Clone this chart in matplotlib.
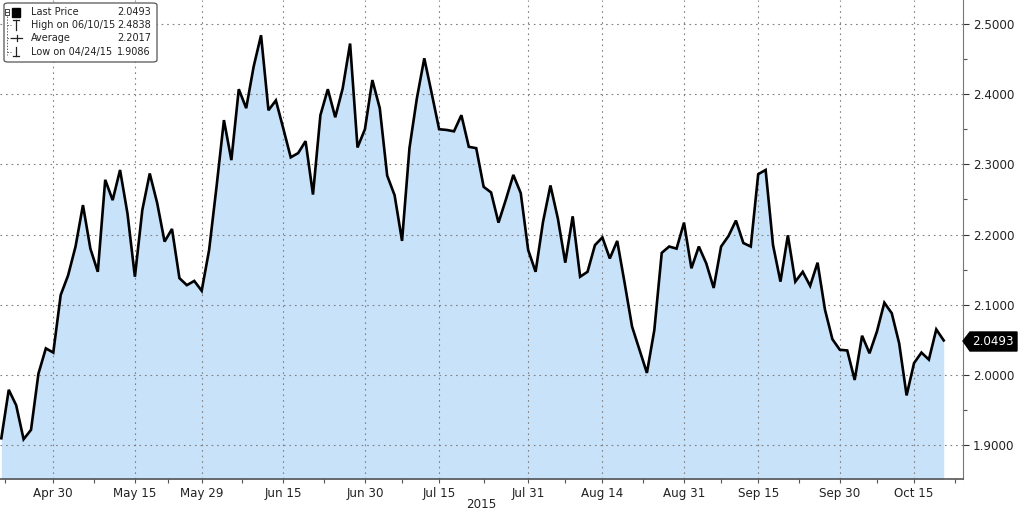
import matplotlib.pyplot as plt
from matplotlib.patches import Polygon, FancyBboxPatch
from matplotlib.lines import Line2D
import numpy as np
import pandas as pd

# trading days (US bond market holidays removed)
holidays = ['2015-05-25', '2015-07-03', '2015-09-07', '2015-10-12']
dates = pd.bdate_range('2015-04-21', '2015-10-21')
dates = dates[~dates.isin(pd.to_datetime(holidays))]

values = [
    1.910, 1.979, 1.957, 1.9086, 1.922, 2.002, 2.038, 2.032, 2.114, 2.142,
    2.183, 2.242, 2.180, 2.147, 2.278, 2.249, 2.292, 2.230, 2.140, 2.235,
    2.287, 2.245, 2.190, 2.208, 2.138, 2.128, 2.134, 2.120, 2.178, 2.268,
    2.363, 2.306, 2.407, 2.380, 2.439, 2.4838, 2.377, 2.391, 2.351, 2.310,
    2.316, 2.333, 2.257, 2.370, 2.407, 2.367, 2.408, 2.472, 2.324, 2.350,
    2.420, 2.380, 2.284, 2.256, 2.191, 2.323, 2.394, 2.451, 2.401, 2.350,
    2.349, 2.347, 2.370, 2.325, 2.323, 2.268, 2.260, 2.217, 2.250, 2.285,
    2.259, 2.178, 2.147, 2.218, 2.270, 2.223, 2.160, 2.226, 2.140, 2.147,
    2.185, 2.196, 2.166, 2.191, 2.131, 2.069, 2.036, 2.003, 2.064, 2.174,
    2.183, 2.180, 2.217, 2.152, 2.183, 2.159, 2.124, 2.183, 2.198, 2.220,
    2.188, 2.183, 2.286, 2.292, 2.185, 2.133, 2.199, 2.133, 2.147, 2.127,
    2.160, 2.093, 2.051, 2.036, 2.035, 1.993, 2.056, 2.031, 2.062, 2.103,
    2.088, 2.045, 1.971, 2.017, 2.032, 2.022, 2.065, 2.0493,
]

tick_dates = ['2015-04-30', '2015-05-15', '2015-05-29', '2015-06-15', '2015-06-30',
              '2015-07-15', '2015-07-31', '2015-08-14', '2015-08-31', '2015-09-15',
              '2015-09-30', '2015-10-15']
tick_labels = ['Apr 30', 'May 15', 'May 29', 'Jun 15', 'Jun 30', 'Jul 15',
               'Jul 31', 'Aug 14', 'Aug 31', 'Sep 15', 'Sep 30', 'Oct 15']

legend_rows = [('Last Price', '2.0493'), ('High on 06/10/15', '2.4838'),
               ('Average', '2.2017'), ('Low on 04/24/15', '1.9086')]

x = np.arange(len(dates))
tick_pos = [dates.get_loc(pd.Timestamp(d)) for d in tick_dates]
minor_pos = [(a + b) / 2 for a, b in zip([-6] + tick_pos, tick_pos + [134])]

W, H = 1024, 512
fig = plt.figure(figsize=(W / 100, H / 100), dpi=100)
ax = fig.add_axes([0, 1 - 479 / H, 963 / W, 479 / H])

ax.fill_between(x, values, 1.8, color='#c8e2fa', lw=0)
ax.plot(x, values, color='black', lw=1.9, solid_joinstyle='miter')

ax.set_xlim(-0.18, 129.6)
ax.set_ylim(1.852, 2.534)

ax.set_xticks(tick_pos)
ax.set_xticklabels(tick_labels)
ax.set_xticks(minor_pos, minor=True)
ax.set_yticks(np.arange(1.9, 2.51, 0.1))
ax.set_yticks(np.arange(1.95, 2.51, 0.1), minor=True)
ax.yaxis.set_major_formatter(plt.FuncFormatter(lambda v, p: f'{v:.4f}'))
ax.yaxis.tick_right()

ax.grid(True, which='major', color='#808080', lw=0.8, linestyle=(0, (1.5, 3.5)))
ax.tick_params(axis='both', which='major', labelsize=8.6, colors='#222222',
               length=4, width=0.8, direction='out')
ax.tick_params(axis='x', which='major', pad=3, length=3, color='#555555')
ax.tick_params(axis='y', which='major', pad=3, color='#333333')
ax.tick_params(axis='both', which='minor', length=3, width=0.8, color='#555555')

for s in ['left', 'top']:
    ax.spines[s].set_visible(False)
ax.spines['right'].set_color('#777777')
ax.spines['bottom'].set_color('#555555')
ax.spines['bottom'].set_linewidth(1.2)

def fx(px):
    return px / W

def fy(py):
    return 1 - py / H

fig.text(fx(481), fy(505), '2015', ha='center', va='center', fontsize=8.6, color='#222222')

# last price tag
tag = Polygon([(fx(963), fy(341)), (fx(970), fy(332)), (fx(1017), fy(332)),
               (fx(1017), fy(351)), (fx(970), fy(351))], closed=True,
              transform=fig.transFigure, color='black')
fig.patches.append(tag)
fig.text(fx(993), fy(341.5), f'{values[-1]:.4f}', ha='center', va='center',
         fontsize=8.6, color='white')

# legend box
box = FancyBboxPatch((fx(4), fy(62)), fx(153), 59 / H, transform=fig.transFigure,
                     boxstyle='round,pad=0,rounding_size=0.004', fc='white',
                     ec='#555555', lw=0.9)
fig.patches.append(box)
rows_y = [12, 25, 38, 52]
for (lab, val), ry in zip(legend_rows, rows_y):
    fig.text(fx(31), fy(ry), lab, ha='left', va='center', fontsize=7, color='#222222')
    fig.text(fx(151), fy(ry), val, ha='right', va='center', fontsize=7, color='#222222')

# tree connector and icons
def fline(xs, ys, **kw):
    fig.lines.append(Line2D([fx(v) for v in xs], [fy(v) for v in ys],
                            transform=fig.transFigure, **kw))

fline([5, 9, 9, 5, 5], [9, 9, 15, 15, 9], color='#444444', lw=0.7)
fline([6, 8], [12, 12], color='#444444', lw=0.7)
fline([7, 7], [16, 55], color='#666666', lw=0.7, linestyle=(0, (1.5, 1.5)))
for ry in rows_y[1:]:
    fline([7, 11], [ry, ry], color='#666666', lw=0.7, linestyle=(0, (1.5, 1.5)))
fig.patches.append(plt.Rectangle((fx(12), fy(17)), 8 / W, 9 / H,
                                 transform=fig.transFigure, color='black'))
# high: T
fline([13, 19], [20, 20], color='#222222', lw=0.9)
fline([16, 16], [20, 30], color='#222222', lw=0.9)
# average
fline([11, 22], [38, 38], color='#222222', lw=0.9)
fline([16.5, 16.5], [35, 41], color='#222222', lw=0.9)
# low: inverted T
fline([13, 19], [56, 56], color='#222222', lw=0.9)
fline([16, 16], [47, 56], color='#222222', lw=0.9)

plt.savefig('out.png', dpi=100)
